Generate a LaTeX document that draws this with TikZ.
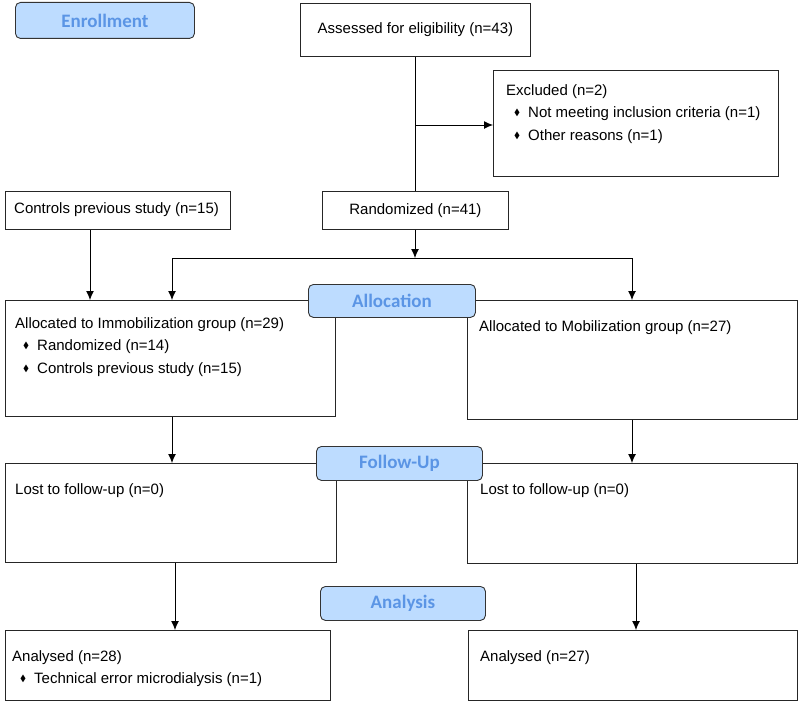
\documentclass[tikz,border=0pt]{standalone}
\usepackage{amssymb}
\usepackage{fontspec}
\setmainfont{Liberation Sans}
\newfontfamily\hdrfont{Carlito}
\usetikzlibrary{arrows.meta}

\definecolor{hdrfill}{HTML}{BDDCFF}
\definecolor{hdrtext}{HTML}{5B95E5}
\newcommand{\itm}{\hspace{8pt}\raisebox{2pt}{\scalebox{0.6}{$\blacklozenge$}}\hspace{8pt}}

\begin{document}
\begin{tikzpicture}[x=1pt, y=-1pt,
  every node/.style = {inner sep=0pt, font=\fontsize{15}{22.5}\selectfont},
  box/.style = {draw=black!85, line width=0.9pt, rectangle, anchor=north west},
  txt/.style = {anchor=north west, align=left},
  hdr/.style = {draw=black!80, line width=0.9pt, rounded corners=5pt,
    fill=hdrfill, text=hdrtext, anchor=north west,
    font=\hdrfont\bfseries\fontsize{19}{21}\selectfont},
  arr/.style = {draw, line width=0.9pt, -{Latex[length=9pt,width=8pt]}},
  line/.style = {draw, line width=0.9pt}]
  \useasboundingbox (0,0) rectangle (798,701);

  % boxes
  \node[box, minimum width=230pt, minimum height=53pt] (assess) at (300,3)
    {Assessed for eligibility (n=43)};
  \node[box, minimum width=285pt, minimum height=106pt] (excl) at (493,70) {};
  \node[box, minimum width=225pt, minimum height=38pt] (ctrl) at (5,191) {};
  \node[box, minimum width=186pt, minimum height=38pt] (rand) at (322,191)
    {Randomized (n=41)};
  \node[box, minimum width=330pt, minimum height=116pt] (immob) at (5,300) {};
  \node[box, minimum width=330pt, minimum height=119pt] (mob) at (467,300) {};
  \node[box, minimum width=331pt, minimum height=99pt] (lostL) at (5,463) {};
  \node[box, minimum width=330pt, minimum height=100pt] (lostR) at (467,463) {};
  \node[box, minimum width=325pt, minimum height=70pt] (anaL) at (5,630) {};
  \node[box, minimum width=329pt, minimum height=70pt] (anaR) at (468,630) {};

  % texts
  \node[txt] (exclT) at (506,84) {Excluded (n=2)\\
    \itm Not meeting inclusion criteria (n=1)\\
    \itm Other reasons (n=1)};
  \node[anchor=west] (ctrlT) at (14,210) {Controls previous study (n=15)};
  \node[txt] (immobT) at (15,317) {Allocated to Immobilization group (n=29)\\
    \itm Randomized (n=14)\\
    \itm Controls previous study (n=15)};
  \node[txt] (mobT) at (479,320) {Allocated to Mobilization group (n=27)};
  \node[txt] (lostLT) at (15,483) {Lost to follow-up (n=0)};
  \node[txt] (lostRT) at (480,483) {Lost to follow-up (n=0)};
  \node[txt] (anaLT) at (12,650) {Analysed (n=28)\\
    \itm Technical error microdialysis (n=1)};
  \node[txt] (anaRT) at (480,650) {Analysed (n=27)};

  % connectors
  \coordinate (exJ) at (415,125);
  \coordinate (split) at (415,258);
  \coordinate (sL) at (172,258);
  \coordinate (sR) at (632,258);
  \draw[line] (assess.south -| exJ) -- (rand.north -| exJ);
  \draw[arr] (exJ) -- (exJ -| excl.west);
  \draw[arr] (ctrl.south -| 90,0) -- (immob.north -| 90,0);
  \draw[arr] (rand.south -| split) -- (split);
  \draw[line] (sL) -- (sR);
  \draw[arr] (sL) -- (sL |- immob.north);
  \draw[arr] (sR) -- (sR |- mob.north);
  \draw[arr] (immob.south -| sL) -- (lostL.north -| sL);
  \draw[arr] (mob.south -| sR) -- (lostR.north -| sR);
  \draw[arr] (lostL.south -| 175,0) -- (anaL.north -| 175,0);
  \draw[arr] (lostR.south -| 636,0) -- (anaR.north -| 636,0);

  % headers
  \node[hdr, minimum width=179pt, minimum height=36pt] (enroll) at (15,2) {Enrollment};
  \node[hdr, minimum width=167pt, minimum height=33pt] (alloc) at (308,284) {Allocation};
  \node[hdr, minimum width=166pt, minimum height=34pt] (follow) at (316,446) {Follow-Up};
  \node[hdr, minimum width=165pt, minimum height=34pt] (analys) at (320,586) {Analysis};
\end{tikzpicture}
\end{document}
